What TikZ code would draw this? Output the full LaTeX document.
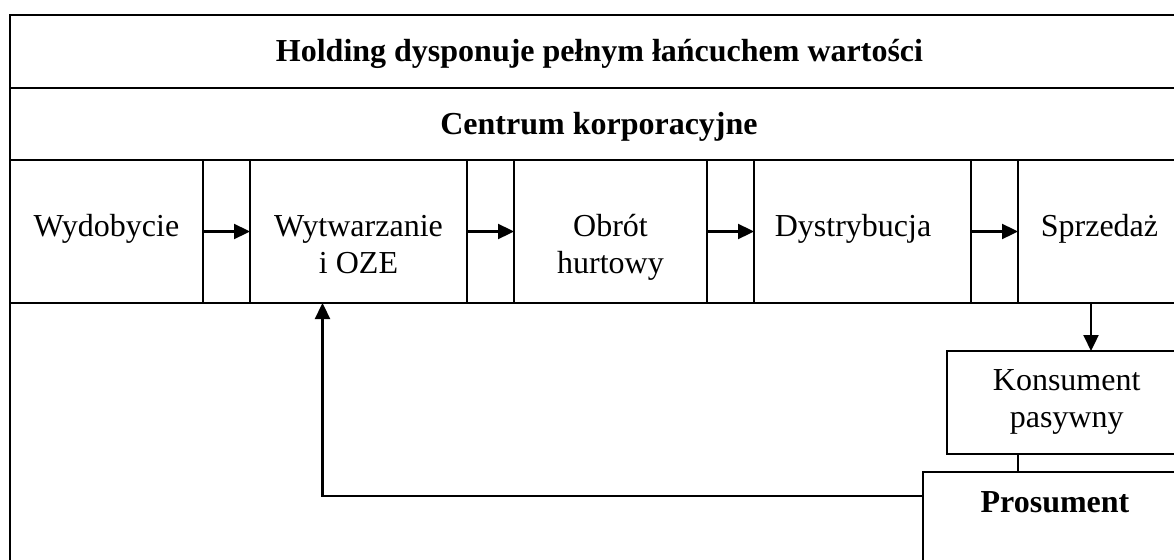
\documentclass[tikz,border=0pt]{standalone}
\usepackage{fontspec}
\setmainfont{Liberation Serif}
\usetikzlibrary{arrows.meta}
\begin{document}
\begin{tikzpicture}[x=1pt,y=-1pt,
  box/.style={draw,line width=2.3pt,rectangle,inner sep=0pt,outer sep=0pt},
  txt/.style={inner sep=0pt,align=center,font=\fontsize{32}{37}\selectfont},
  btxt/.style={txt,font=\fontsize{32}{37}\selectfont\bfseries},
  flow/.style={line width=2.3pt,-{Triangle[length=16pt,width=15pt]}},
  link/.style={line width=2.3pt}]
\useasboundingbox (0,0) rectangle (1174,559);
\clip (0,0) rectangle (1174,559);

% outer frame and horizontal bands
\node[box,minimum width=1178pt,minimum height=605pt] (frame) at (599,317.5) {};
\node[box,minimum width=1178pt,minimum height=73pt] (holding) at (599,51.5) {};
\node[box,minimum width=1178pt,minimum height=72pt] (centrum) at (599,124) {};
\node[box,minimum width=1178pt,minimum height=143pt] (chain) at (599,231.5) {};

% value chain stages
\node[box,minimum width=193pt,minimum height=143pt] (wyd) at (106.5,231.5) {};
\node[box,minimum width=217pt,minimum height=143pt] (wyt) at (358.5,231.5) {};
\node[box,minimum width=193pt,minimum height=143pt] (obr) at (610.5,231.5) {};
\node[box,minimum width=217pt,minimum height=143pt] (dys) at (862.5,231.5) {};
\node[box,minimum width=170pt,minimum height=143pt] (spr) at (1103,231.5) {};

% customers
\node[box,fill=white,minimum width=241pt,minimum height=103pt] (kons) at (1067.5,402.5) {};
\node[box,fill=white,minimum width=265pt,minimum height=148pt] (pros) at (1055.5,546) {};

% labels
\node[btxt] (holdingT) at (599.5,54.6) {Holding dysponuje pełnym łańcuchem wartości\strut};
\node[btxt] (centrumT) at (599,126.6) {Centrum korporacyjne\strut};
\node[txt] (wydT) at (106.5,228.6) {Wydobycie\strut};
\node[txt] (wytT) at (358.5,247.6) {Wytwarzanie\strut\\i OZE\strut};
\node[txt] (obrT) at (610.5,247.6) {Obrót\strut\\hurtowy\strut};
\node[txt] (dysT) at (853,228.6) {Dystrybucja\strut};
\node[txt] (sprT) at (1099.5,228.6) {Sprzedaż\strut};
\node[txt] (konsT) at (1066.7,401.6) {Konsument\strut\\pasywny\strut};
\node[btxt] (prosT) at (1055,505.4) {Prosument\strut};

% connectors
\draw[flow] (wyd.east) -- (wyt.west);
\draw[flow] (wyt.east) -- (obr.west);
\draw[flow] (obr.east) -- (dys.west);
\draw[flow] (dys.east) -- (spr.west);
\draw[flow] ([xshift=-12pt]spr.south) -- ([xshift=-12pt]spr.south |- kons.north);
\draw[link] (kons.south -| spr.west) -- (pros.north -| spr.west);
\draw[flow] ([yshift=-24pt]pros.north west) -| ([xshift=-36pt]wyt.south);
\end{tikzpicture}
\end{document}
